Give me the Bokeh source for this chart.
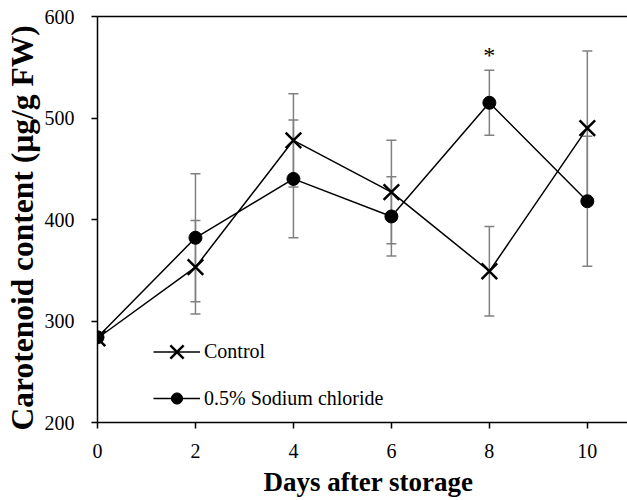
from bokeh.plotting import figure
from bokeh.models import (ColumnDataSource, Whisker, TeeHead, Range1d, LinearAxis,
                          Legend, LegendItem, FixedTicker, Title)
from bokeh.core.properties import value
from bokeh.embed import file_html
from bokeh.resources import INLINE

# Carotenoid content over storage time
days = [0, 2, 4, 6, 8, 10]
control = [283, 353, 478, 427, 349, 490]
control_err = [3, 46, 46, 51, 44, 76]
sodium = [284, 382, 440, 403, 515, 418]
sodium_err = [3, 63, 58, 39, 32, 64]
x_ticks = [0, 2, 4, 6, 8, 10]
y_ticks = [200, 300, 400, 500, 600]
signif_day = 8

SERIF = "Liberation Serif"
ERR_COLOR = "#808080"

p = figure(width=627, height=500, output_backend="svg", toolbar_location=None,
           x_range=Range1d(0, 10.82), y_range=Range1d(200, 600),
           min_border_left=97, min_border_right=0, min_border_top=16,
           min_border_bottom=78)
p.outline_line_color = None
p.grid.visible = False
p.background_fill_color = "white"
p.border_fill_color = "white"

for ax in (p.xaxis[0], p.yaxis[0]):
    ax.axis_line_color = "black"
    ax.axis_line_width = 1.5
    ax.major_tick_line_color = "black"
    ax.major_tick_line_width = 1.5
    ax.major_tick_out = 6
    ax.major_tick_in = 0
    ax.minor_tick_line_color = None
    ax.major_label_text_font = SERIF
    ax.major_label_text_font_size = "20px"
    ax.major_label_text_color = "black"

p.xaxis.ticker = FixedTicker(ticks=x_ticks)
p.yaxis.ticker = FixedTicker(ticks=y_ticks)
p.xaxis.major_label_standoff = 15
p.yaxis.major_label_standoff = 17

# axis titles, placed as side titles so their position can be set exactly
xtitle = Title(text="Days after storage", align="left", offset=166,
               vertical_align="bottom", standoff=8,
               text_font=SERIF, text_font_style="bold", text_font_size="27px",
               text_color="black")
p.add_layout(xtitle, "below")

ytitle = Title(text="Carotenoid content (µg/g FW)", align="left", offset=-8,
               text_font=SERIF, text_font_style="bold", text_font_size="31.5px",
               text_color="black", standoff=4)
p.add_layout(ytitle, "left")

# top frame line
top = LinearAxis(ticker=FixedTicker(ticks=[]), major_label_text_font_size="0px",
                 axis_line_color="black", axis_line_width=1.5,
                 major_tick_line_color=None, minor_tick_line_color=None)
p.add_layout(top, "above")

src = ColumnDataSource(dict(
    x=days,
    control=control,
    c_up=[m + e for m, e in zip(control, control_err)],
    c_lo=[m - e for m, e in zip(control, control_err)],
    sodium=sodium,
    s_up=[m + e for m, e in zip(sodium, sodium_err)],
    s_lo=[m - e for m, e in zip(sodium, sodium_err)],
))

for up, lo in (("c_up", "c_lo"), ("s_up", "s_lo")):
    w = Whisker(base="x", upper=up, lower=lo, source=src, level="underlay",
                line_color=ERR_COLOR, line_width=1.5,
                upper_head=TeeHead(size=10, line_color=ERR_COLOR, line_width=1.5),
                lower_head=TeeHead(size=10, line_color=ERR_COLOR, line_width=1.5))
    p.add_layout(w)

c_line = p.line("x", "control", source=src, line_color="black", line_width=1.5)
c_mark = p.scatter("x", "control", source=src, marker="x", size=22,
                   line_color="black", line_width=2.5)
s_line = p.line("x", "sodium", source=src, line_color="black", line_width=1.5)
s_mark = p.scatter("x", "sodium", source=src, marker="circle", size=13,
                   fill_color="black", line_color="black")

# significance mark above the error bar
i = days.index(signif_day)
p.text(x=[signif_day], y=[sodium[i] + sodium_err[i]], text=["*"],
       text_font=value(SERIF), text_font_size="24px", text_align="center",
       text_baseline="alphabetic", y_offset=-15, text_color="black")

# one legend per series so each swatch marker gets its own size
legend_style = dict(orientation="vertical", glyph_width=47, label_standoff=4,
                    padding=0, margin=0, border_line_color=None,
                    background_fill_alpha=0, label_text_font=SERIF,
                    label_text_font_size="20px", label_text_color="black")
leg_c = Legend(items=[LegendItem(label="Control", renderers=[c_line, c_mark])],
               location=(56, 44), glyph_height=53, label_height=53, **legend_style)
leg_s = Legend(items=[LegendItem(label="0.5% Sodium chloride", renderers=[s_line, s_mark])],
               location=(56, 10), glyph_height=28, label_height=28, **legend_style)
p.add_layout(leg_c, "center")
p.add_layout(leg_s, "center")

open("out.html", "w").write(file_html(p, INLINE))
